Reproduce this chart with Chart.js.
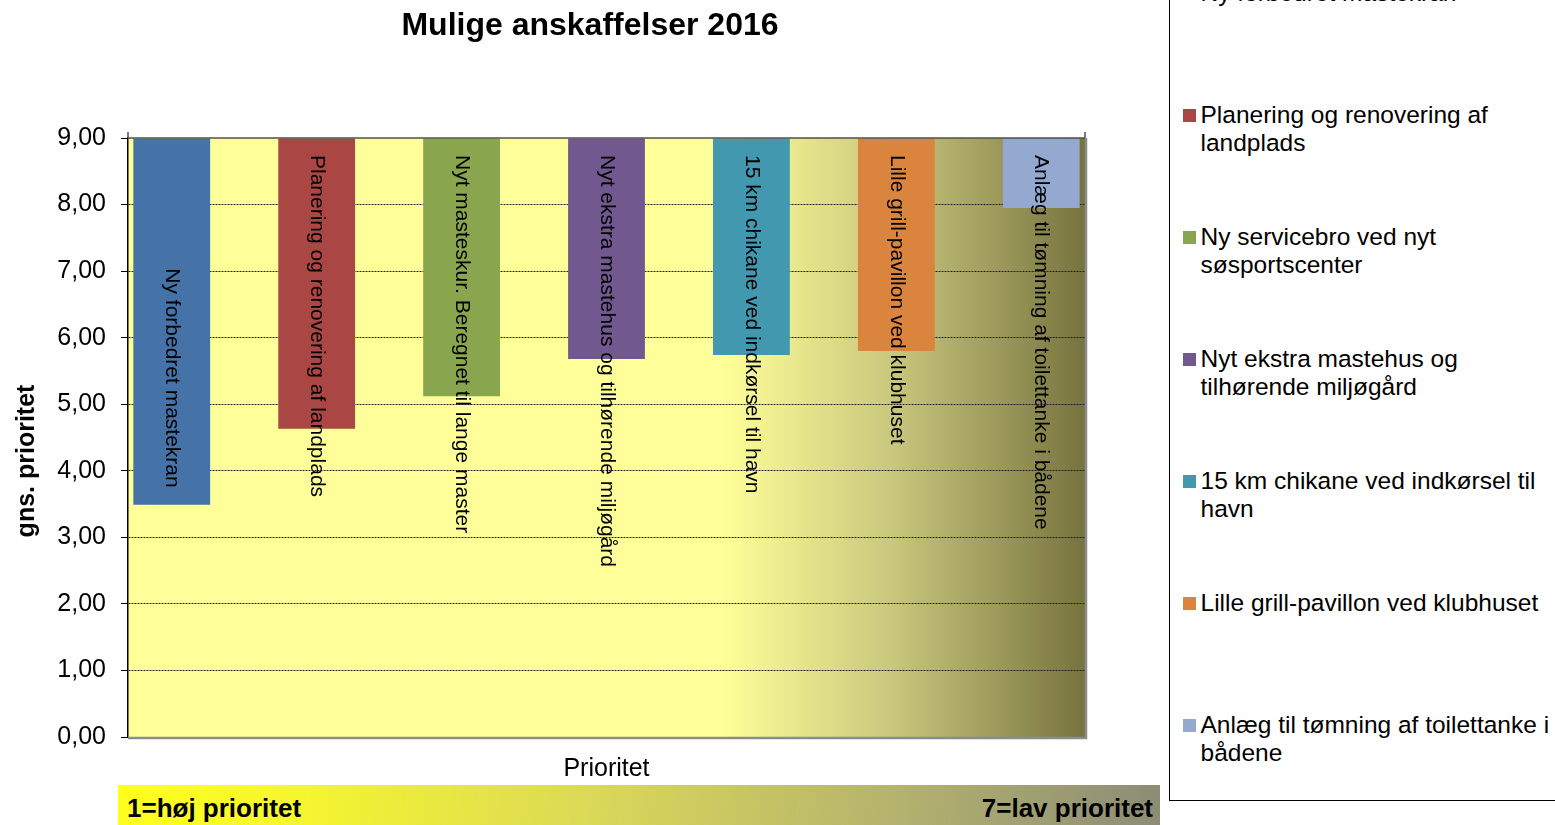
<!DOCTYPE html>
<html>
<head>
<meta charset="utf-8">
<script src="https://cdn.jsdelivr.net/npm/chart.js@4"></script>
<style>
    body { margin: 0; background: #fff; overflow: hidden; width: 1555px; height: 825px; position: relative;
           font-family: "Liberation Sans", Arial, sans-serif; }
    #chart { position: absolute; left: 0; top: 0; }
    #legend { position: absolute; left: 1169px; top: -40px; width: 420px; height: 841px;
              border: 1.5px solid #000; box-sizing: border-box; }
    .item { position: absolute; left: 30.5px; width: 356px; font-size: 24.5px; line-height: 28px; color: #000; }
    .item .box { position: absolute; left: -18px; top: 8px; width: 13px; height: 13px; }
    #scaleBar { position: absolute; left: 118px; top: 785px; width: 1042px; height: 40px;
                background: linear-gradient(95deg, #ffff1e 0%, #f6f62e 17%, #dad858 46%, #b4b26e 75%, #8c8c76 100%);
                font-weight: bold; font-size: 26px; line-height: 46px; color: #000; }
    #scaleBar .l { position: absolute; left: 9px; top: 0; }
    #scaleBar .r { position: absolute; right: 7px; top: 0; }
</style>
</head>
<body>

<canvas id="chart" width="1165" height="785"></canvas>
<div id="legend"></div>
<div id="scaleBar"><span class="l">1=høj prioritet</span><span class="r">7=lav prioritet</span></div>

<script>

//
// data
//

const chartTitle = "Mulige anskaffelser 2016";
const categories = ["Prioritet"];

const seriesNames = [
    "Ny forbedret mastekran",
    "Planering og renovering af landplads",
    "Nyt masteskur. Beregnet til lange master",
    "Nyt ekstra mastehus og tilhørende miljøgård",
    "15 km chikane ved indkørsel til havn",
    "Lille grill-pavillon ved klubhuset",
    "Anlæg til tømning af toilettanke i bådene"
];

// legend text as it wraps in the box
const legendLines = [
    ["Ny forbedret mastekran"],
    ["Planering og renovering af", "landplads"],
    ["Ny servicebro ved nyt", "søsportscenter"],
    ["Nyt ekstra mastehus og", "tilhørende miljøgård"],
    ["15 km chikane ved indkørsel til", "havn"],
    ["Lille grill-pavillon ved klubhuset"],
    ["Anlæg til tømning af toilettanke i", "bådene"]
];

const seriesValues = [3.49, 4.63, 5.12, 5.68, 5.74, 5.80, 7.95];

const seriesColors = ["#4572A7", "#AA4643", "#89A54E", "#71588F", "#4198AF", "#DB843D", "#93A9CF"];

const yMin = 0;
const yMax = 9;
const yStep = 1;

const FONT = '"Liberation Sans", Arial, sans-serif';
Chart.defaults.font.family = FONT;
Chart.defaults.color = "#000";

//
// plot background, frame, bar labels, titles
//

const plotDecor = {
    id: "plotDecor",

    beforeDraw(chart) {
        const { ctx, chartArea: { left, right, top, bottom } } = chart;

        const g = ctx.createLinearGradient(left, 0, right, 0);
        g.addColorStop(0, "#ffff99");
        g.addColorStop(0.62, "#ffff99");
        g.addColorStop(0.8, "#c9c77c");
        g.addColorStop(1, "#77733f");

        ctx.save();
        ctx.fillStyle = g;
        ctx.fillRect(left, top, right - left, bottom - top);
        ctx.restore();
    },

    afterDatasetsDraw(chart) {
        const { ctx, chartArea: { left, right, top, bottom } } = chart;

        ctx.save();

        // shadow right + bottom
        ctx.strokeStyle = "#8c8c8c";
        ctx.lineWidth = 2.5;
        ctx.beginPath();
        ctx.moveTo(right + 1, top);
        ctx.lineTo(right + 1, bottom + 1);
        ctx.lineTo(left, bottom + 1);
        ctx.stroke();

        // category axis sits on top (crosses at max)
        ctx.strokeStyle = "#505050";
        ctx.lineWidth = 1.5;
        ctx.beginPath();
        ctx.moveTo(left, top);
        ctx.lineTo(right, top);
        ctx.moveTo(left, top);
        ctx.lineTo(left, top - 6);
        ctx.moveTo(right, top);
        ctx.lineTo(right, top - 6);
        ctx.stroke();

        // vertical series labels
        ctx.fillStyle = "#000";
        ctx.font = "21px " + FONT;
        ctx.textAlign = "left";
        ctx.textBaseline = "middle";

        chart.data.datasets.forEach((ds, i) => {
            const bar = chart.getDatasetMeta(i).data[0];
            if (!bar) return;
            const w = ctx.measureText(ds.label).width;
            const start = Math.max(top + 17, bar.y - 17 - w);

            ctx.save();
            ctx.translate(bar.x, start);
            ctx.rotate(Math.PI / 2);
            ctx.fillText(ds.label, 0, 0);
            ctx.restore();
        });

        ctx.restore();
    },

    afterDraw(chart) {
        const { ctx } = chart;
        ctx.save();
        ctx.fillStyle = "#000";
        ctx.textAlign = "center";
        ctx.textBaseline = "middle";

        // chart title (centred over plot + axis block like the original)
        ctx.font = "bold 32px " + FONT;
        ctx.fillText(chartTitle, 590, 26);

        // value axis title
        ctx.translate(27, 461);
        ctx.rotate(-Math.PI / 2);
        ctx.font = "bold 25px " + FONT;
        ctx.fillText("gns. prioritet", 0, 0);
        ctx.restore();
    }
};

//
// chart
//

const datasets = seriesNames.map((name, i) => ({
    label: name,
    data: [seriesValues[i]],
    base: yMax,
    backgroundColor: seriesColors[i],
    borderWidth: 0,
    categoryPercentage: 1.06,
    barPercentage: 0.53
}));

new Chart(document.getElementById("chart"), {
    type: "bar",
    data: {
        labels: categories,
        datasets
    },
    options: {
        responsive: false,
        devicePixelRatio: 1,
        animation: false,
        events: [],
        layout: {
            padding: { left: 10, right: 80, top: 138, bottom: 1 }
        },
        scales: {
            x: {
                grid: { display: false, drawTicks: false },
                border: { display: false },
                ticks: { display: false },
                title: {
                    display: true,
                    text: "Prioritet",
                    font: { size: 25 },
                    padding: { top: 17, bottom: 0 }
                }
            },
            y: {
                min: yMin,
                max: yMax,
                afterFit(scale) {
                    scale.width = 118;
                },
                ticks: {
                    stepSize: yStep,
                    padding: 15,
                    font: { size: 25 },
                    callback: v => v.toFixed(2).replace(".", ",")
                },
                grid: {
                    color: c => (c.tick && (c.tick.value === yMin || c.tick.value === yMax)) ? "rgba(0,0,0,0)" : "#222",
                    lineWidth: 1,
                    tickLength: 7,
                    tickColor: "#000",
                    tickWidth: 1
                },
                border: {
                    display: true,
                    color: "#000",
                    width: 1.5,
                    dash: [2, 1]
                }
            }
        },
        plugins: {
            legend: { display: false },
            tooltip: { enabled: false },
            title: { display: false }
        }
    },
    plugins: [plotDecor]
});

//
// legend
//

const legendEl = document.getElementById("legend");

legendLines.forEach((lines, i) => {
    const item = document.createElement("div");
    item.className = "item";
    item.style.top = (17.5 + 122 * i) + "px";

    const box = document.createElement("span");
    box.className = "box";
    box.style.background = seriesColors[i];
    item.appendChild(box);

    item.appendChild(document.createTextNode(lines.join(" ")));
    legendEl.appendChild(item);
});

</script>
</body>
</html>
